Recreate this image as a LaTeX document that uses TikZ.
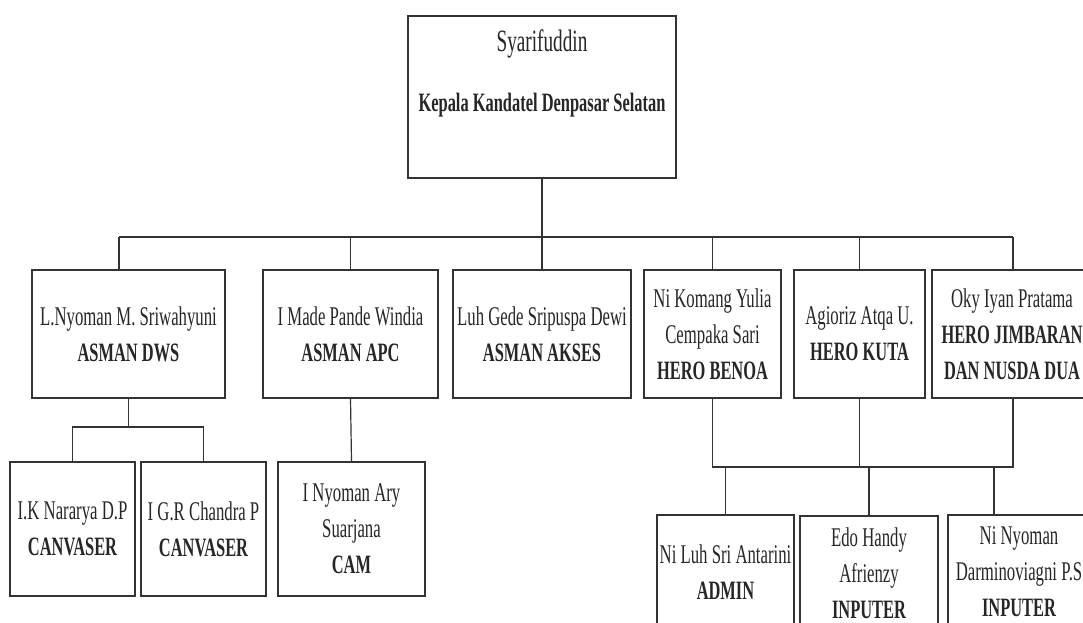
\documentclass[tikz,border=0pt]{standalone}
\usepackage{fontspec}
\setmainfont[FakeStretch=0.62]{Liberation Serif}
\begin{document}
\begin{tikzpicture}[x=1pt,y=-1pt,
  box/.style={draw=black!80, line width=1.2pt, rectangle, inner sep=2pt, align=center,
    font=\fontsize{27}{36}\selectfont, text=black!85},
  conn/.style={draw=black!80, line width=1.2pt},
  txt/.style={inner sep=0pt, text=black!85}]
\newcommand{\ttl}[1]{{\fontsize{26.5}{36}\selectfont\bfseries #1}}
\useasboundingbox (0,0) rectangle (1083,623);
\clip (0,0) rectangle (1083,623);
\fill[white] (0,0) rectangle (1083,623);
% top box
\node[box, minimum width=268pt, minimum height=162pt] (top) at (542,97) {};
\node[txt, anchor=base, font=\fontsize{31}{36}\selectfont] (topname) at (542,52) {Syarifuddin};
\node[txt, anchor=base, font=\fontsize{26.5}{36}\selectfont\bfseries] (toptitle) at (542,112) {Kepala Kandatel Denpasar Selatan};
% level 1
\node[box, minimum width=193pt, minimum height=128pt] (dws) at (128.5,334) {L.Nyoman M. Sriwahyuni\\\ttl{ASMAN DWS}};
\node[box, minimum width=175pt, minimum height=128pt] (apc) at (350.5,334) {I Made Pande Windia\\\ttl{ASMAN APC}};
\node[box, minimum width=178pt, minimum height=128pt] (akses) at (542,334) {Luh Gede Sripuspa Dewi\\\ttl{ASMAN AKSES}};
\node[box, minimum width=137pt, minimum height=128pt] (benoa) at (712.5,334) {Ni Komang Yulia\\Cempaka Sari\\\ttl{HERO BENOA}};
\node[box, minimum width=131pt, minimum height=128pt] (kuta) at (859.5,334) {Agioriz Atqa U.\\\ttl{HERO KUTA}};
\node[box, minimum width=160pt, minimum height=128pt] (jimb) at (1012,334) {Oky Iyan Pratama\\\ttl{HERO JIMBARAN}\\\ttl{DAN NUSDA DUA}};
% level 2 left
\node[box, minimum width=125pt, minimum height=134pt] (ik) at (72.5,529) {I.K Nararya D.P\\\ttl{CANVASER}};
\node[box, minimum width=125pt, minimum height=134pt] (igr) at (203.5,529) {I G.R Chandra P\\\ttl{CANVASER}};
\node[box, minimum width=147pt, minimum height=134pt] (cam) at (351.5,529) {I Nyoman Ary\\Suarjana\\\ttl{CAM}};
% level 2 right
\node[box, minimum width=137pt, minimum height=114pt] (admin) at (725.5,572) {Ni Luh Sri Antarini\\\ttl{ADMIN}};
\node[box, minimum width=138pt, minimum height=114pt] (edo) at (869,573) {Edo Handy\\Afrienzy\\\ttl{INPUTER}};
\node[box, minimum width=142pt, minimum height=114pt] (ninyo) at (1019,572) {Ni Nyoman\\Darminoviagni P.S\\\ttl{INPUTER}};
% connectors top level
\coordinate (busL) at (119,237);
\coordinate (busR) at (1013,237);
\draw[conn] (top.south) -- (top.south |- akses.north);
\draw[conn] (busL) -- (busR);
\draw[conn] (busL) -- (busL |- dws.north);
\draw[conn] (apc.north |- busL) -- (apc.north);
\draw[conn] (benoa.north |- busL) -- (benoa.north);
\draw[conn] (kuta.north |- busL) -- (kuta.north);
\draw[conn] (busR) -- (busR |- jimb.north);
% left sub
\coordinate (lbus) at (128.5,427);
\draw[conn] (dws.south) -- (lbus);
\draw[conn] (ik.north) -- (ik.north |- lbus) -- (igr.north |- lbus) -- (igr.north);
\draw[conn] (apc.south) -- (cam.north);
% right sub
\coordinate (rbus) at (712.5,467);
\coordinate (rbusR) at (1013,467);
\draw[conn] (benoa.south) -- (rbus) -- (rbusR) -- (busR |- jimb.south);
\draw[conn] (kuta.south) -- (kuta.south |- rbus);
\draw[conn] (admin.north |- rbus) -- (admin.north);
\draw[conn] (edo.north |- rbus) -- (edo.north);
\coordinate (ndrop) at (994,467);
\draw[conn] (ndrop) -- (ndrop |- ninyo.north);
\end{tikzpicture}
\end{document}
